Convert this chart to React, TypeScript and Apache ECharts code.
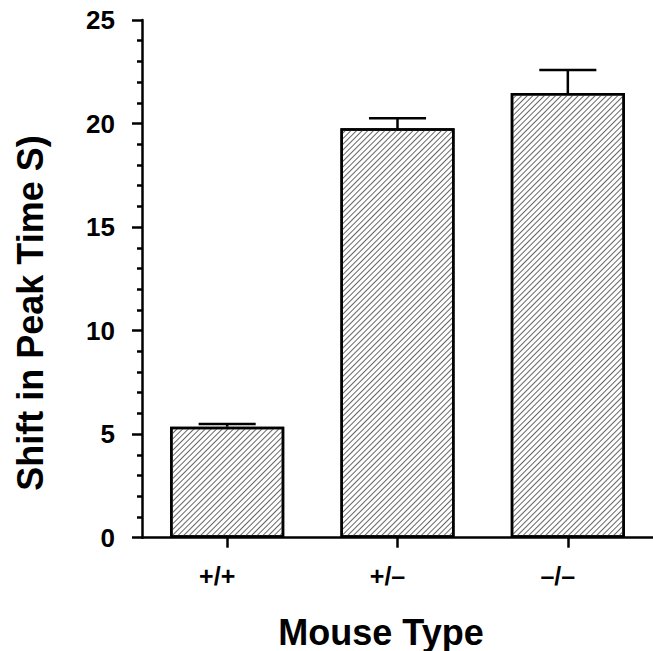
import React, { useEffect, useRef } from "react";
import * as echarts from "echarts";

const categories = ["+/+", "+/\u2013", "\u2013/\u2013"];
const means = [5.36, 19.77, 21.47];
const upperErrors = [5.49, 20.25, 22.58];
const yTicks = { min: 0, max: 25, interval: 5 };

const FONT = "'Liberation Sans', Arial, Helvetica, sans-serif";

export default function App() {
  const ref = useRef<HTMLDivElement>(null);
  useEffect(() => {
    if (!ref.current) return;
    const chart = echarts.init(ref.current, null, { renderer: "svg" });
    const errData = categories.map((_, i) => [i, means[i], upperErrors[i]]);
    chart.setOption({
      animation: false,
      backgroundColor: "#fff",
      grid: { left: 142, top: 20, bottom: 113.3, right: -6.5, containLabel: false },
      xAxis: {
        type: "category",
        data: categories,
        boundaryGap: true,
        axisLine: { show: true, lineStyle: { color: "#000", width: 2.5 } },
        axisTick: { show: true, alignWithLabel: true, length: 10, lineStyle: { color: "#000", width: 2.5 } },
        axisLabel: {
          color: "#000",
          fontFamily: FONT,
          fontWeight: "bold",
          fontSize: 25,
          margin: 26,
          padding: [0, 20, 0, 0],
        },
        splitLine: { show: false },
      },
      yAxis: {
        type: "value",
        min: yTicks.min,
        max: yTicks.max,
        interval: yTicks.interval,
        axisLine: { show: true, lineStyle: { color: "#000", width: 2.5 } },
        axisTick: { show: true, length: 10, lineStyle: { color: "#000", width: 2.5 } },
        minorTick: { show: true, splitNumber: 5, length: 5, lineStyle: { color: "#000", width: 2.5 } },
        axisLabel: {
          color: "#000",
          fontFamily: FONT,
          fontWeight: "bold",
          fontSize: 26,
          margin: 27,
          padding: [10, 0, 0, 0],
        },
        splitLine: { show: false },
        minorSplitLine: { show: false },
      },
      graphic: [
        {
          type: "text",
          x: 30,
          y: 313,
          rotation: Math.PI / 2,
          style: {
            text: "Shift in Peak Time S)",
            font: `bold 36px ${FONT}`,
            fill: "#000",
            align: "center",
            verticalAlign: "middle",
          },
        },
        {
          type: "text",
          x: 381,
          y: 632,
          style: {
            text: "Mouse Type",
            font: `bold 36px ${FONT}`,
            fill: "#000",
            align: "center",
            verticalAlign: "middle",
          },
        },
      ],
      series: [
        {
          type: "bar",
          data: means,
          barWidth: "67%",
          itemStyle: {
            color: "#fff",
            borderColor: "#000",
            borderWidth: 2.5,
            decal: {
              symbol: "rect",
              symbolSize: 1,
              dashArrayX: [1, 0],
              dashArrayY: [1, 2.6],
              rotation: -Math.PI / 4,
              color: "#666",
            },
          },
          z: 2,
        },
        {
          type: "custom",
          data: errData,
          z: 3,
          renderItem: (params: any, api: any) => {
            const i = api.value(0);
            const base = api.coord([i, api.value(1)]);
            const top = api.coord([i, api.value(2)]);
            const band = api.size([1, 0])[0];
            const half = band * 0.67 / 4;
            const style = { stroke: "#000", lineWidth: 2.5, fill: "none" };
            return {
              type: "group",
              children: [
                { type: "line", shape: { x1: base[0], y1: base[1], x2: top[0], y2: top[1] }, style },
                { type: "line", shape: { x1: top[0] - half, y1: top[1], x2: top[0] + half, y2: top[1] }, style },
              ],
            };
          },
        },
      ],
    });
    return () => chart.dispose();
  }, []);
  return (
    <div
      ref={ref}
      style={{ position: "fixed", left: 0, top: 0, width: 653, height: 651, background: "#fff" }}
    />
  );
}
